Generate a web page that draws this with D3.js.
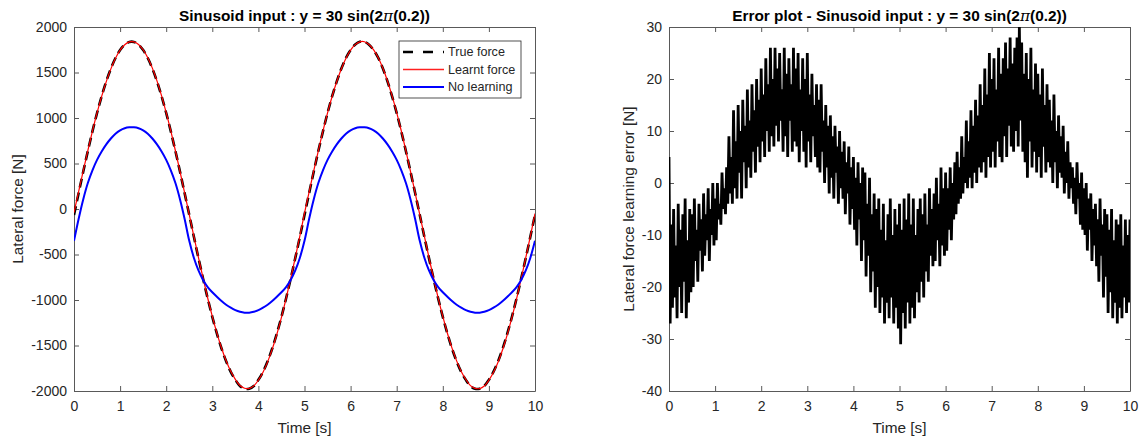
<!DOCTYPE html>
<html><head><meta charset="utf-8">
<script src="https://cdn.jsdelivr.net/npm/d3@7"></script>
<style>
body{margin:0;background:#fff;}
svg{display:block;font-family:"Liberation Sans",Arial,Helvetica,sans-serif;}
</style></head><body>
<svg id="chart" width="1146" height="439"></svg>
<script>
// ---------- data ----------
const forceStep = 0.1;   // s between force samples (t = 0 .. 10)
const errorStep = 0.025; // s between error samples (t = 0 .. 10)

const trueForce = [
  -65,174,409,636,853,1055,1239,1403,1543,1659,1747,1806,1836,1836,1806,1747,1659,1543,1403,1239,
  1055,853,636,409,174,-65,-304,-539,-766,-983,-1185,-1369,-1533,-1673,-1789,-1877,-1945,-1975,-1975,-1945,
  -1877,-1789,-1673,-1533,-1369,-1185,-983,-766,-539,-304,
  -66,173,410,637,852,1056,1240,1402,1544,1660,1748,1807,1838,1837,1805,1746,1660,1544,1402,1238,
  1054,852,635,408,175,-64,-305,-540,-767,-984,-1186,-1370,-1534,-1674,-1790,-1878,-1946,-1976,-1974,-1944,
  -1876,-1788,-1672,-1532,-1368,-1184,-982,-765,-538,-303,
  -64
];
const learntForce = [
  -40,190,420,642,856,1056,1238,1400,1540,1656,1745,1805,1836,1837,1808,1750,1663,1548,1408,1244,
  1060,858,640,412,176,-62,-300,-534,-760,-978,-1180,-1364,-1528,-1668,-1784,-1872,-1940,-1970,-1972,-1944,
  -1880,-1794,-1680,-1540,-1376,-1190,-986,-766,-534,-296,
  -45,186,418,640,855,1056,1239,1401,1541,1657,1746,1806,1837,1838,1807,1749,1662,1547,1407,1243,
  1059,857,639,411,177,-61,-299,-533,-761,-979,-1181,-1365,-1529,-1669,-1785,-1873,-1941,-1971,-1973,-1945,
  -1881,-1795,-1681,-1541,-1377,-1191,-987,-767,-535,-297,
  -50
];
const noLearning = [
  -350,-110,105,285,425,540,632,710,775,828,865,888,898,898,888,865,828,775,710,632,
  540,425,285,105,-110,-350,-535,-675,-780,-858,-915,-965,-1012,-1052,-1085,-1112,-1130,-1140,-1140,-1130,
  -1112,-1085,-1052,-1012,-965,-915,-858,-780,-675,-535,
  -350,-110,105,285,425,540,632,710,775,828,865,888,898,898,888,865,828,775,710,632,
  540,425,285,105,-110,-350,-535,-675,-780,-858,-915,-965,-1012,-1052,-1085,-1112,-1130,-1140,-1140,-1130,
  -1112,-1085,-1052,-1012,-965,-915,-858,-780,-675,-535,
  -350
];
const learningError = [
  5,-27,-8,-24,-5,-22,-12,-26,-4,-20,  -9,-25,-6,-19,-3,-26,-11,-23,-5,-21,
  -6,-20,-3,-15,-9,-19,-4,-13,-7,-17,  -2,-14,-6,-11,-1,-15,-5,-10,0,-12,
  -3,-11,0,-7,-4,-8,2,-5,-1,-6,        3,-4,9,-2,5,-4,14,-1,8,-3,
  15,2,10,-3,16,4,11,-1,18,3,          12,1,19,6,14,2,20,7,16,4,
  22,8,17,5,24,10,19,6,26,9,           20,7,26,11,22,8,25,12,18,6,
  26,9,21,5,24,12,19,6,26,8,           22,7,25,4,18,10,24,6,20,3,
  25,8,17,4,21,9,15,5,19,3,            16,2,19,6,12,0,15,3,11,-2,
  13,1,9,-3,11,2,7,-4,10,-1,           6,-3,8,-6,4,-2,7,-8,3,-5,
  5,-9,1,-12,4,-7,0,-15,3,-11,         2,-18,-4,-14,1,-21,-6,-17,-2,-24,
  -5,-20,-3,-25,-9,-22,-4,-27,-11,-23, -6,-26,-3,-22,-10,-27,-5,-24,-8,-28,
  -4,-31,-9,-25,-3,-28,-7,-23,-2,-27,  -8,-24,-3,-26,-10,-21,-5,-23,-3,-19,
  -6,-22,-2,-17,-8,-19,-1,-14,-5,-16,  -2,-15,1,-11,-4,-16,3,-12,-1,-14,
  2,-13,-1,-9,3,-11,0,-7,4,-6,         6,-4,3,-3,9,-2,5,0,12,-1,
  8,1,14,-1,11,2,16,0,13,3,            19,2,15,4,22,1,17,5,25,3,
  20,6,24,3,18,8,26,5,21,4,            24,9,27,5,22,11,28,7,23,6,
  26,10,28,7,30,12,27,6,21,4,          25,1,20,8,26,3,18,6,23,2,
  21,5,17,1,22,7,15,2,19,4,            16,3,12,0,17,4,10,-1,13,2,
  9,1,11,-2,6,0,8,-3,4,-1,             3,-4,1,-6,4,-3,0,-8,2,-9,
  -1,-10,0,-13,-3,-9,-2,-15,-5,-12,    -4,-16,-7,-19,-3,-14,-8,-22,-5,-18,
  -6,-25,-9,-21,-5,-26,-11,-23,-7,-27, -8,-24,-6,-26,-12,-22,-7,-25,-10,-23,
  -7
];

const xTicks = [0,1,2,3,4,5,6,7,8,9,10];
const xTickLabels = ["0","1","2","3","4","5","6","7","8","9","10"];
const leftYTicks = [-2000,-1500,-1000,-500,0,500,1000,1500,2000];
const leftYTickLabels = ["-2000","-1500","-1000","-500","0","500","1000","1500","2000"];
const rightYTicks = [-40,-30,-20,-10,0,10,20,30];
const rightYTickLabels = ["-40","-30","-20","-10","0","10","20","30"];
const legendLabels = ["True force","Learnt force","No learning"];
const leftTitle = "Sinusoid input : y = 30 sin(2";
const rightTitle = "Error plot - Sinusoid input : y = 30 sin(2";
const titleTail = "(0.2))";
const xLabel = "Time [s]";
const leftYLabel = "Lateral force [N]";
const rightYLabel = "Lateral force learning error [N]";

// ---------- drawing ----------
const svg = d3.select("#chart");
const axisColor = "#595959", textColor = "#262626";
const plotTop = 27, plotBottom = 391;

function panel(x0, x1, yDomain, yTicks, yLabels, title, id) {
  const x = d3.scaleLinear().domain([0,10]).range([x0,x1]);
  const y = d3.scaleLinear().domain(yDomain).range([plotBottom, plotTop]);
  const g = svg.append("g");
  g.append("clipPath").attr("id", id).append("rect")
    .attr("x", x0).attr("y", plotTop).attr("width", x1-x0).attr("height", plotBottom-plotTop);

  const style = sel => {
    sel.attr("font-family", null).attr("font-size", null);
    sel.selectAll(".domain").attr("stroke", axisColor).attr("stroke-width", 1);
    sel.selectAll(".tick line").attr("stroke", axisColor).attr("stroke-width", 1);
    sel.selectAll(".tick text").attr("fill", textColor).attr("font-size", 14);
  };
  g.append("g").attr("transform", `translate(0,${plotBottom})`)
    .call(d3.axisBottom(x).tickValues(xTicks).tickFormat((d,i)=>xTickLabels[i])
      .tickSizeInner(-5).tickSizeOuter(0).tickPadding(10)).call(style);
  g.append("g").attr("transform", `translate(0,${plotTop})`)
    .call(d3.axisTop(x).tickValues(xTicks).tickFormat("").tickSizeInner(-5).tickSizeOuter(0)).call(style);
  g.append("g").attr("transform", `translate(${x0},0)`)
    .call(d3.axisLeft(y).tickValues(yTicks).tickFormat((d,i)=>yLabels[i])
      .tickSizeInner(-5).tickSizeOuter(0).tickPadding(7)).call(style);
  g.append("g").attr("transform", `translate(${x1},0)`)
    .call(d3.axisRight(y).tickValues(yTicks).tickFormat("").tickSizeInner(-5).tickSizeOuter(0)).call(style);

  const t = g.append("text").attr("x", (x0+x1)/2).attr("y", 21)
    .attr("text-anchor", "middle").attr("font-size", 15.4).attr("font-weight", "bold").attr("fill", "#000");
  t.append("tspan").text(title);
  t.append("tspan").attr("font-weight", "normal").attr("font-family", '"DejaVu Serif",serif').attr("font-style","italic").text("π");
  t.append("tspan").text(titleTail);

  g.append("text").attr("x", (x0+x1)/2).attr("y", 433).attr("text-anchor", "middle")
    .attr("font-size", 15.4).attr("fill", textColor).text(xLabel);
  return {x, y, g};
}

const L = panel(74, 535, [-2000,2000], leftYTicks, leftYTickLabels, leftTitle, "clipL");
const R = panel(669, 1130, [-40,30], rightYTicks, rightYTickLabels, rightTitle, "clipR");

svg.append("text").attr("transform", "translate(23,209) rotate(-90)").attr("text-anchor","middle")
  .attr("font-size", 15.4).attr("fill", textColor).text(leftYLabel);
svg.append("text").attr("transform", "translate(634,209) rotate(-90)").attr("text-anchor","middle")
  .attr("font-size", 15.4).attr("fill", textColor).text(rightYLabel);

const lineL = d3.line().x((d,i)=>L.x(i*forceStep)).y(d=>L.y(d)).curve(d3.curveCatmullRom);
const lp = L.g.append("g").attr("clip-path", "url(#clipL)");
lp.append("path").datum(trueForce).attr("d", lineL).attr("fill","none")
  .attr("stroke","#000").attr("stroke-width",2.6).attr("stroke-dasharray","9,5");
lp.append("path").datum(learntForce).attr("d", lineL).attr("fill","none")
  .attr("stroke","#ff0000").attr("stroke-width",1.2);
lp.append("path").datum(noLearning).attr("d", lineL).attr("fill","none")
  .attr("stroke","#0000ff").attr("stroke-width",2);

const lineR = d3.line().x((d,i)=>R.x(i*errorStep)).y(d=>R.y(d));
R.g.append("g").attr("clip-path", "url(#clipR)").append("path").datum(learningError)
  .attr("d", lineR).attr("fill","none").attr("stroke","#000").attr("stroke-width",2.8);

// legend
const lg = svg.append("g").attr("transform", "translate(399,41)");
lg.append("rect").attr("width", 122).attr("height", 57).attr("fill","#fff")
  .attr("stroke", "#262626").attr("stroke-width", 0.8);
const legStyles = [
  {stroke:"#000000", w:2.6, dash:"10,10"},
  {stroke:"#ff2020", w:1.6, dash:"none"},
  {stroke:"#0000ff", w:2, dash:"none"}
];
legendLabels.forEach((lab,i) => {
  const yy = 11 + i*17.5;
  lg.append("line").attr("x1", 4).attr("x2", 45).attr("y1", yy).attr("y2", yy)
    .attr("stroke", legStyles[i].stroke).attr("stroke-width", legStyles[i].w)
    .attr("stroke-dasharray", legStyles[i].dash);
  lg.append("text").attr("x", 49).attr("y", yy).attr("dy","0.35em")
    .attr("font-size", 12.6).attr("fill", textColor).text(lab);
});
</script>
</body></html>
